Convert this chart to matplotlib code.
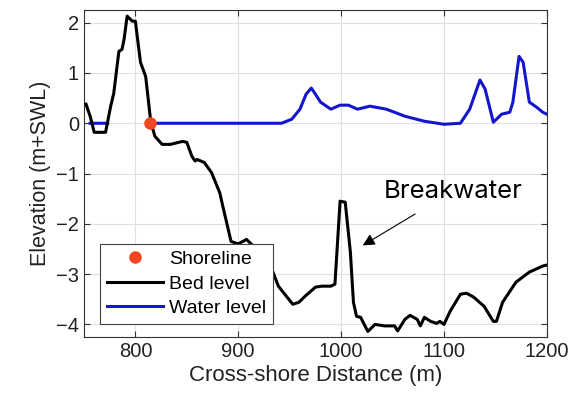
import numpy as np
import matplotlib.pyplot as plt

# Bed level profile (m + SWL)
bed_x = [752, 756, 760, 771, 776, 779, 783, 784, 787, 789, 792, 795, 797, 800,
         803, 805, 810, 812.5, 815, 819, 826, 834, 846, 850, 855, 858, 860, 867,
         874, 882, 885, 893, 900, 908, 915, 930, 939, 953, 959, 965, 975, 981,
         990, 994, 999, 1004, 1009, 1012, 1015, 1019, 1026, 1033, 1042, 1052,
         1055, 1062, 1067, 1074, 1077, 1081, 1087, 1093, 1096, 1100, 1106, 1116,
         1122, 1129, 1139, 1148, 1151, 1157, 1170, 1183, 1196, 1200]
bed_y = [0.38, 0.14, -0.18, -0.18, 0.34, 0.6, 1.27, 1.43, 1.47, 1.67, 2.13,
         2.07, 2.03, 2.03, 1.53, 1.21, 0.93, 0.48, 0.02, -0.26, -0.42, -0.42,
         -0.36, -0.38, -0.66, -0.75, -0.72, -0.78, -0.98, -1.38, -1.65, -2.35,
         -2.4, -2.31, -2.45, -2.76, -3.24, -3.6, -3.56, -3.44, -3.26, -3.24,
         -3.24, -3.2, -1.55, -1.57, -2.56, -3.56, -3.84, -3.86, -4.14, -4.0,
         -4.03, -4.03, -4.13, -3.9, -3.82, -3.9, -4.03, -3.86, -3.94, -3.98,
         -3.94, -4.0, -3.74, -3.4, -3.38, -3.46, -3.64, -3.94, -3.94, -3.56,
         -3.16, -2.96, -2.84, -2.82]

# Water level (NaN where the profile is dry)
water_x = [756, 773, 774, 815, 942, 952, 960, 966, 971, 975, 980, 990, 999,
           1007, 1016, 1028, 1044, 1062, 1081, 1100, 1116, 1125, 1135, 1140,
           1148, 1156, 1164, 1167, 1173, 1177, 1183, 1190, 1196, 1200]
water_y = [0, 0, np.nan, 0, 0, 0.08, 0.28, 0.58, 0.70, 0.58, 0.42, 0.28, 0.36,
           0.36, 0.28, 0.34, 0.28, 0.14, 0.04, -0.02, 0, 0.28, 0.86, 0.68,
           0.02, 0.18, 0.22, 0.42, 1.33, 1.21, 0.42, 0.32, 0.22, 0.18]

shore_x, shore_y = 814, 0.0

plt.rcParams['font.family'] = ['Liberation Sans', 'DejaVu Sans']

fig = plt.figure(figsize=(5.75, 4.05), dpi=100)
ax = fig.add_axes([0.146, 0.168, 0.805, 0.807])

ax.plot(shore_x, shore_y, 'o', color='#f2461f', markersize=8, zorder=5,
        label='Shoreline', linestyle='none')
ax.plot(bed_x, bed_y, color='black', lw=2.2, label='Bed level', zorder=4)
ax.plot(water_x, water_y, color='#1515cc', lw=2.2, label='Water level', zorder=3)

ax.set_xlim(750, 1200)
ax.set_ylim(-4.25, 2.25)
ax.set_xticks([800, 900, 1000, 1100, 1200])
ax.set_yticks([-4, -3, -2, -1, 0, 1, 2])
ax.grid(True, color='#e0e0e0', lw=0.8)
ax.set_axisbelow(True)
ax.tick_params(direction='in', top=True, right=True, labelsize=14.5,
               length=4, color='#333333', labelcolor='#222222')
for s in ax.spines.values():
    s.set_color('#333333')
    s.set_linewidth(0.8)

ax.set_xlabel('Cross-shore Distance (m)', fontsize=16, color='#222222', labelpad=3)
ax.set_ylabel('Elevation (m+SWL)', fontsize=15.5, color='#222222')

ax.annotate('Breakwater', xy=(1021, -2.43), xytext=(1109, -1.35),
            fontsize=18.5, ha='center', va='center', family=['Inter', 'DejaVu Sans'],
            arrowprops=dict(arrowstyle='-|>', color='#555555', lw=0.8,
                            mutation_scale=18, shrinkA=12, shrinkB=0,
                            fc='black', ec='black'))

leg = ax.legend(loc='lower left', bbox_to_anchor=(0.035, 0.04), fontsize=14,
                frameon=True, fancybox=False, edgecolor='#444444', framealpha=1,
                handlelength=2.9, handletextpad=0.3, borderpad=0.35,
                labelspacing=0.35, borderaxespad=0)
leg.get_frame().set_linewidth(0.8)
leg.set_zorder(10)

fig.savefig('out.png', dpi=100)
